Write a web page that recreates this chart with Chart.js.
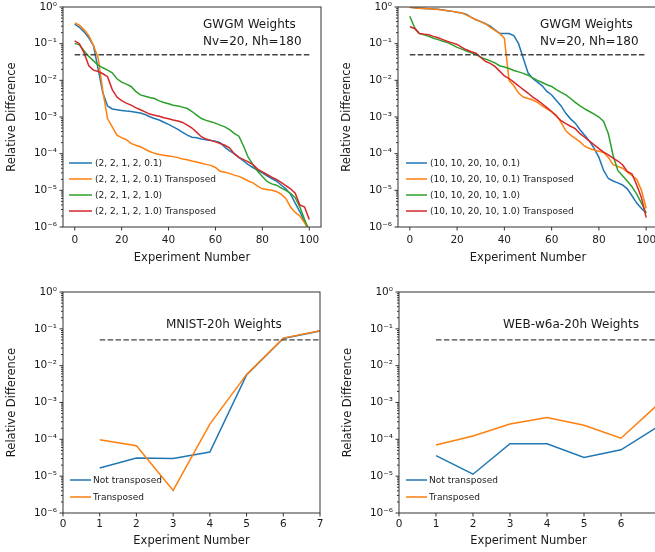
<!DOCTYPE html>
<html>
<head>
<meta charset="utf-8">
<title>Relative Difference</title>
<script src="https://cdn.jsdelivr.net/npm/chart.js@4.4.1/dist/chart.umd.min.js"></script>
<style>
    html, body { margin: 0; padding: 0; background: #fff; overflow: hidden; width: 655px; height: 552px; }
    canvas { position: absolute; }
</style>
</head>
<body>
<canvas id="tl" width="330" height="270" style="left:0;top:0"></canvas>
<canvas id="tr" width="330" height="270" style="left:335px;top:0"></canvas>
<canvas id="bl" width="330" height="272" style="left:0;top:280px"></canvas>
<canvas id="br" width="330" height="272" style="left:336px;top:280px"></canvas>
<script>
// ============================================
// Data
// ============================================

const topX = [0, 2, 4, 6, 8, 10, 12, 14, 16, 18, 20, 22, 24, 26, 28, 30, 32, 34, 36, 38, 40,
    42, 44, 46, 48, 50, 52, 54, 56, 58, 60, 62, 64, 66, 68, 70, 72, 74, 76, 78, 80,
    82, 84, 86, 88, 90, 92, 94, 96, 98, 100];
const topTicks = [0, 20, 40, 60, 80, 100];
const bottomX = [1, 2, 3, 4, 5, 6, 7];
const bottomTicks = [0, 1, 2, 3, 4, 5, 6, 7];
const yDecades = [1e-6, 1e-5, 1e-4, 1e-3, 1e-2, 1e-1, 1];
const threshold = 0.05;

// GWGM, (2, 2, 1, 2, ...)
const tlBlue = [0.34, 0.28, 0.21, 0.145, 0.089, 0.02, 4.5e-3, 2.0e-3, 1.66e-3, 1.58e-3, 1.51e-3,
    1.45e-3, 1.41e-3, 1.35e-3, 1.29e-3, 1.17e-3, 1.02e-3, 9.1e-4, 8.3e-4, 7.2e-4, 6.3e-4,
    5.4e-4, 4.6e-4, 3.8e-4, 3.2e-4, 2.8e-4, 2.7e-4, 2.5e-4, 2.4e-4, 2.3e-4, 2.2e-4,
    2.0e-4, 1.5e-4, 1.2e-4, 1.0e-4, 7.9e-5, 6.3e-5, 5.0e-5, 4.2e-5, 3.5e-5, 3.0e-5,
    2.5e-5, 2.1e-5, 1.8e-5, 1.4e-5, 1.1e-5, 7.9e-6, 4.5e-6, 2.6e-6, 1.4e-6, 7.9e-7];
const tlOrange = [0.37, 0.32, 0.24, 0.166, 0.089, 0.04, 5.0e-3, 8.9e-4, 5.4e-4, 3.2e-4, 2.75e-4,
    2.4e-4, 1.9e-4, 1.7e-4, 1.55e-4, 1.32e-4, 1.15e-4, 1.02e-4, 9.5e-5, 9.1e-5, 8.7e-5,
    8.3e-5, 7.8e-5, 7.2e-5, 6.8e-5, 6.3e-5, 5.9e-5, 5.5e-5, 5.1e-5, 4.8e-5, 4.2e-5,
    3.3e-5, 3.1e-5, 2.9e-5, 2.6e-5, 2.4e-5, 2.1e-5, 1.8e-5, 1.6e-5, 1.3e-5, 1.1e-5,
    1.05e-5, 1.0e-5, 9.3e-6, 7.9e-6, 6.0e-6, 3.5e-6, 2.5e-6, 2.0e-6, 1.3e-6, 7.9e-7];
const tlGreen = [0.102, 0.093, 0.063, 0.045, 0.034, 0.026, 0.022, 0.019, 0.016, 0.011, 8.9e-3,
    7.9e-3, 6.8e-3, 5.0e-3, 4.0e-3, 3.7e-3, 3.4e-3, 3.2e-3, 2.75e-3, 2.5e-3, 2.3e-3,
    2.1e-3, 2.0e-3, 1.86e-3, 1.7e-3, 1.41e-3, 1.12e-3, 9.1e-4, 8.1e-4, 7.4e-4, 6.8e-4,
    6.0e-4, 5.4e-4, 4.5e-4, 3.6e-4, 3.0e-4, 1.6e-4, 7.9e-5, 5.0e-5, 3.3e-5, 2.4e-5,
    1.74e-5, 1.5e-5, 1.38e-5, 1.17e-5, 1.0e-5, 8.3e-6, 6.3e-6, 3.5e-6, 1.6e-6, 7.9e-7];
const tlRed = [0.12, 0.1, 0.056, 0.025, 0.019, 0.0174, 0.0151, 0.0126, 5.6e-3, 3.5e-3, 2.8e-3,
    2.4e-3, 2.1e-3, 1.8e-3, 1.58e-3, 1.38e-3, 1.2e-3, 1.12e-3, 1.05e-3, 9.5e-4, 8.9e-4,
    8.3e-4, 7.8e-4, 7.1e-4, 6.0e-4, 5.0e-4, 3.8e-4, 2.9e-4, 2.5e-4, 2.3e-4, 2.1e-4,
    1.9e-4, 1.7e-4, 1.45e-4, 1.0e-4, 7.9e-5, 6.9e-5, 6.0e-5, 5.0e-5, 3.8e-5, 3.2e-5,
    2.7e-5, 2.3e-5, 2.0e-5, 1.66e-5, 1.35e-5, 1.1e-5, 8.3e-6, 4.0e-6, 3.5e-6, 1.6e-6];

// GWGM, (10, 10, 20, 10, ...)
const trBlue = [0.98, 0.95, 0.93, 0.91, 0.89, 0.88, 0.87, 0.83, 0.79, 0.76, 0.72,
    0.69, 0.63, 0.52, 0.45, 0.4, 0.35, 0.3, 0.24, 0.19, 0.19,
    0.19, 0.166, 0.1, 0.04, 0.016, 0.0112, 8.9e-3, 7.1e-3, 5.0e-3, 4.0e-3,
    2.8e-3, 2.0e-3, 1.26e-3, 8.9e-4, 6.8e-4, 4.5e-4, 3.2e-4, 2.2e-4, 1.4e-4, 7.9e-5,
    3.5e-5, 2.1e-5, 1.8e-5, 1.6e-5, 1.4e-5, 1.1e-5, 7.1e-6, 4.5e-6, 3.2e-6, 2.4e-6];
const trOrange = [0.98, 0.95, 0.93, 0.91, 0.89, 0.87, 0.85, 0.83, 0.79, 0.76, 0.72,
    0.69, 0.6, 0.52, 0.45, 0.4, 0.35, 0.28, 0.23, 0.19, 0.14,
    0.01, 7.1e-3, 4.5e-3, 3.5e-3, 3.2e-3, 2.9e-3, 2.5e-3, 2.0e-3, 1.66e-3, 1.38e-3,
    1.12e-3, 7.1e-4, 4.2e-4, 3.2e-4, 2.6e-4, 2.1e-4, 1.6e-4, 1.38e-4, 1.26e-4, 1.17e-4,
    1.07e-4, 7.9e-5, 5.0e-5, 4.5e-5, 4.0e-5, 3.2e-5, 2.5e-5, 2.0e-5, 1.0e-5, 3.2e-6];
const trGreen = [0.56, 0.275, 0.19, 0.174, 0.158, 0.141, 0.129, 0.117, 0.107, 0.093, 0.079,
    0.071, 0.063, 0.056, 0.05, 0.043, 0.038, 0.034, 0.03, 0.025, 0.023,
    0.021, 0.0186, 0.017, 0.0155, 0.0138, 0.0117, 0.01, 8.7e-3, 7.6e-3, 6.8e-3,
    5.6e-3, 4.7e-3, 4.0e-3, 3.2e-3, 2.5e-3, 2.0e-3, 1.66e-3, 1.41e-3, 1.2e-3, 1.0e-3,
    7.6e-4, 3.5e-4, 8.9e-5, 3.5e-5, 2.5e-5, 1.8e-5, 1.26e-5, 7.9e-6, 4.5e-6, 2.4e-6];
const trRed = [0.29, 0.26, 0.19, 0.182, 0.174, 0.158, 0.145, 0.129, 0.115, 0.105, 0.095,
    0.079, 0.068, 0.06, 0.055, 0.042, 0.033, 0.029, 0.024, 0.0178, 0.0132,
    0.0112, 8.9e-3, 7.1e-3, 5.6e-3, 4.5e-3, 3.5e-3, 2.9e-3, 2.3e-3, 1.8e-3, 1.41e-3,
    1.05e-3, 7.9e-4, 6.6e-4, 5.6e-4, 4.8e-4, 3.5e-4, 2.8e-4, 2.2e-4, 1.74e-4, 1.38e-4,
    1.1e-4, 9.3e-5, 7.6e-5, 6.3e-5, 5.0e-5, 3.3e-5, 2.8e-5, 1.4e-5, 6.3e-6, 1.8e-6];

// MNIST-20h and WEB-w6a-20h
const mnistPlain = [1.66e-5, 3.1e-5, 3.0e-5, 4.5e-5, 5.6e-3, 0.055, 0.088];
const mnistTransposed = [9.8e-5, 6.7e-5, 4.1e-6, 2.6e-4, 5.8e-3, 0.056, 0.089];
const webPlain = [3.6e-5, 1.13e-5, 7.6e-5, 7.6e-5, 3.2e-5, 5.2e-5, 2.2e-4];
const webTransposed = [7.0e-5, 1.23e-4, 2.6e-4, 3.9e-4, 2.4e-4, 1.07e-4, 8.9e-4];

// ============================================
// Styling helpers
// ============================================

const FONT = 'DejaVu Sans';
const TEXT = '#1a1a1a';
const COLORS = { blue: '#1f77b4', orange: '#ff7f0e', green: '#2ca02c', red: '#d62728' };
const SUP = { '-': '\u207b', '0': '\u2070', '1': '\u00b9', '2': '\u00b2', '3': '\u00b3',
    '4': '\u2074', '5': '\u2075', '6': '\u2076', '7': '\u2077', '8': '\u2078', '9': '\u2079' };

function powerLabel(v) {
    const e = String(Math.round(Math.log10(v)));
    return '10' + e.split('').map(c => SUP[c]).join('');
}

function series(label, color, xs, ys, order) {
    return {
        label,
        data: ys.map((v, i) => ({ x: xs[i], y: v })),
        borderColor: color,
        borderWidth: 1.5,
        pointRadius: 0,
        fill: false,
        tension: 0,
        order
    };
}

function thresholdLine(x0, x1) {
    return {
        label: '',
        data: [{ x: x0, y: threshold }, { x: x1, y: threshold }],
        borderColor: '#444',
        borderWidth: 1.4,
        borderDash: [5.5, 2.4],
        pointRadius: 0,
        order: 0
    };
}

// Frame and matplotlib-like tick marks
const axisFrame = {
    id: 'axisFrame',
    afterDatasetsDraw(chart) {
        const { ctx, chartArea: a, scales: { x, y } } = chart;
        ctx.save();
        ctx.strokeStyle = '#333';
        ctx.lineWidth = 1;
        ctx.strokeRect(a.left, a.top, a.right - a.left, a.bottom - a.top);
        ctx.beginPath();
        yDecades.forEach(d => {
            const py = y.getPixelForValue(d);
            ctx.moveTo(a.left, py);
            ctx.lineTo(a.left - 3.5, py);
            if (d < 1) {
                for (let k = 2; k < 10; k++) {
                    const pm = y.getPixelForValue(k * d);
                    ctx.moveTo(a.left, pm);
                    ctx.lineTo(a.left - 2, pm);
                }
            }
        });
        x.ticks.forEach(t => {
            const px = x.getPixelForValue(t.value);
            ctx.moveTo(px, a.bottom);
            ctx.lineTo(px, a.bottom + 3.5);
        });
        ctx.stroke();
        ctx.restore();
    }
};

// Legend drawn inside the plot, lower left
const insetLegend = {
    id: 'insetLegend',
    afterDraw(chart, args, opts) {
        const { ctx, chartArea: a } = chart;
        const items = chart.data.datasets.filter(d => d.label);
        ctx.save();
        ctx.font = `${opts.size}px "${FONT}"`;
        ctx.textBaseline = 'middle';
        items.forEach((d, i) => {
            const yy = a.bottom - opts.bottom - (items.length - 1 - i) * opts.gap;
            const x0 = a.left + opts.left;
            ctx.strokeStyle = d.borderColor;
            ctx.lineWidth = 1.5;
            ctx.beginPath();
            ctx.moveTo(x0, yy);
            ctx.lineTo(x0 + opts.line, yy);
            ctx.stroke();
            ctx.fillStyle = TEXT;
            ctx.fillText(d.label, x0 + opts.line + opts.pad, yy + 0.5);
        });
        ctx.restore();
    }
};

// Title text inside the plot
const noteText = {
    id: 'noteText',
    afterDraw(chart, args, opts) {
        const { ctx, chartArea: a } = chart;
        ctx.save();
        ctx.font = `12px "${FONT}"`;
        ctx.fillStyle = TEXT;
        ctx.textBaseline = 'middle';
        opts.lines.forEach((t, i) => ctx.fillText(t, a.left + opts.dx, a.top + opts.dy + i * 17));
        ctx.restore();
    }
};

// ============================================
// Panels
// ============================================

function makePanel(id, p) {
    const ctx = document.getElementById(id).getContext('2d');
    return new Chart(ctx, {
        type: 'line',
        data: { datasets: p.datasets },
        plugins: [axisFrame, insetLegend, noteText],
        options: {
            responsive: false,
            animation: false,
            devicePixelRatio: 1,
            layout: { padding: p.padding },
            plugins: {
                legend: { display: false },
                tooltip: { enabled: false },
                insetLegend: p.legend,
                noteText: p.note
            },
            scales: {
                x: {
                    type: 'linear',
                    min: p.xMin,
                    max: p.xMax,
                    afterBuildTicks: s => { s.ticks = p.ticks.map(v => ({ value: v })); },
                    afterFit: s => { s.height = p.xHeight; s.paddingLeft = 0; s.paddingRight = 0; },
                    grid: { display: false, drawTicks: false },
                    border: { display: false },
                    ticks: { font: { family: FONT, size: 10.5 }, color: TEXT, padding: p.xPad, maxRotation: 0, autoSkip: false },
                    title: {
                        display: true, text: 'Experiment Number', color: TEXT,
                        font: { family: FONT, size: 11.5 }, padding: { top: 0, bottom: p.xTitlePad }
                    }
                },
                y: {
                    type: 'logarithmic',
                    min: 1e-6,
                    max: 1,
                    afterBuildTicks: s => { s.ticks = yDecades.map(v => ({ value: v })); },
                    afterFit: s => { s.width = 63; s.paddingTop = 0; s.paddingBottom = 0; },
                    grid: { display: false, drawTicks: false },
                    border: { display: false },
                    ticks: { font: { family: FONT, size: 10.5 }, color: TEXT, padding: 6, callback: v => powerLabel(v) },
                    title: {
                        display: true, text: 'Relative Difference', color: TEXT,
                        font: { family: FONT, size: 11.5 }, padding: { top: 5, bottom: 0 }
                    }
                }
            }
        }
    });
}

const topLegend = { size: 9, left: 6, line: 23, pad: 3, bottom: 16, gap: 16 };
const bottomLegend = { size: 9, left: 7, line: 21, pad: 2, bottom: 16, gap: 17 };

makePanel('tl', {
    padding: { left: 0, top: 7, right: 9, bottom: 0 },
    xMin: -5, xMax: 105, ticks: topTicks, xHeight: 43, xPad: 7, xTitlePad: 5,
    legend: topLegend,
    note: { lines: ['GWGM Weights', 'Nv=20, Nh=180'], dx: 140, dy: 18 },
    datasets: [
        series('(2, 2, 1, 2, 0.1)', COLORS.blue, topX, tlBlue, 4),
        series('(2, 2, 1, 2, 0.1) Transposed', COLORS.orange, topX, tlOrange, 3),
        series('(2, 2, 1, 2, 1.0)', COLORS.green, topX, tlGreen, 2),
        series('(2, 2, 1, 2, 1.0) Transposed', COLORS.red, topX, tlRed, 1),
        thresholdLine(0, 100)
    ]
});

makePanel('tr', {
    padding: { left: 0, top: 7, right: 7, bottom: 0 },
    xMin: -5, xMax: 105, ticks: topTicks, xHeight: 43, xPad: 7, xTitlePad: 5,
    legend: { ...topLegend, left: 8, line: 21 },
    note: { lines: ['GWGM Weights', 'Nv=20, Nh=180'], dx: 142, dy: 18 },
    datasets: [
        series('(10, 10, 20, 10, 0.1)', COLORS.blue, topX, trBlue, 4),
        series('(10, 10, 20, 10, 0.1) Transposed', COLORS.orange, topX, trOrange, 3),
        series('(10, 10, 20, 10, 1.0)', COLORS.green, topX, trGreen, 2),
        series('(10, 10, 20, 10, 1.0) Transposed', COLORS.red, topX, trRed, 1),
        thresholdLine(0, 100)
    ]
});

makePanel('bl', {
    padding: { left: 0, top: 12, right: 10, bottom: 0 },
    xMin: 0, xMax: 7, ticks: bottomTicks, xHeight: 39, xPad: 5, xTitlePad: 4,
    legend: bottomLegend,
    note: { lines: ['MNIST-20h Weights'], dx: 103, dy: 33 },
    datasets: [
        series('Not transposed', COLORS.blue, bottomX, mnistPlain, 2),
        series('Transposed', COLORS.orange, bottomX, mnistTransposed, 1),
        thresholdLine(1, 7)
    ]
});

makePanel('br', {
    padding: { left: 0, top: 12, right: 8, bottom: 0 },
    xMin: 0, xMax: 7, ticks: bottomTicks, xHeight: 39, xPad: 5, xTitlePad: 4,
    legend: bottomLegend,
    note: { lines: ['WEB-w6a-20h Weights'], dx: 104, dy: 33 },
    datasets: [
        series('Not transposed', COLORS.blue, bottomX, webPlain, 2),
        series('Transposed', COLORS.orange, bottomX, webTransposed, 1),
        thresholdLine(1, 7)
    ]
});
</script>
</body>
</html>
